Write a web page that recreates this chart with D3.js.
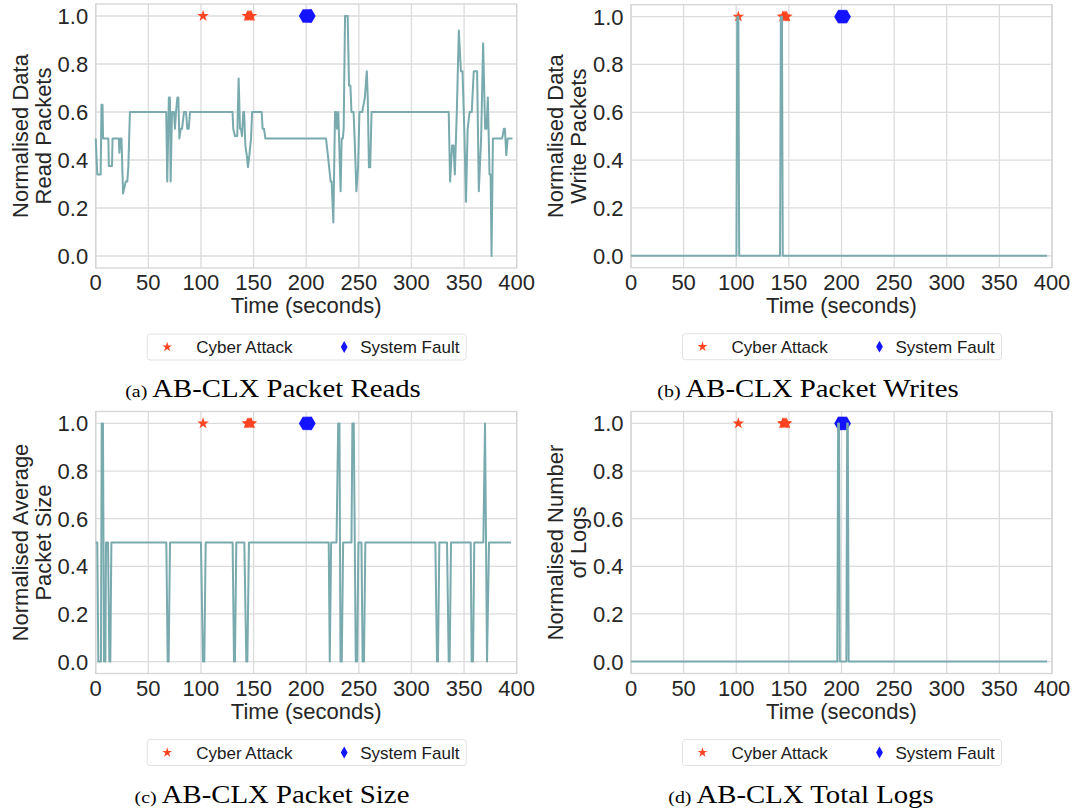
<!DOCTYPE html>
<html>
<head>
<meta charset="utf-8">
<script src="https://cdn.jsdelivr.net/npm/d3@7"></script>
<style>
  body { margin: 0; background: #fff; }
  svg { display: block; }
  .tick-label { font-family: "Liberation Sans", Arial, sans-serif; font-size: 22px; fill: #262626; }
  .axis-title { font-family: "Liberation Sans", Arial, sans-serif; font-size: 22px; fill: #262626; }
  .legend-text { font-family: "Liberation Sans", Arial, sans-serif; font-size: 17px; fill: #1a1a1a; }
  .caption { font-family: "Liberation Serif", "Times New Roman", serif; fill: #000; }
</style>
</head>
<body>
<div class="chart"></div>
<script>
// time (s), normalised value
const packetReads = [[0,0.49],[1.5,0.34],[4.7,0.34],[5.5,0.63],[6.5,0.63],[7,0.49],[12,0.49],[12.5,0.375],[15.5,0.375],[16,0.49],
  [22,0.49],[22.5,0.43],[23.5,0.49],[24.5,0.49],[26,0.26],[28.5,0.31],[30,0.31],[31,0.37],[32.5,0.6],[67,0.6],
  [68,0.31],[69.5,0.66],[70.5,0.66],[71.2,0.31],[72.5,0.6],[74.4,0.6],[75.3,0.53],[76.3,0.6],[77.6,0.66],[78.5,0.66],
  [79.5,0.49],[80.8,0.53],[82,0.53],[83.9,0.6],[85.8,0.6],[87,0.53],[88.4,0.53],[89.6,0.6],[130,0.6],[130.7,0.53],
  [132.3,0.5],[134.5,0.5],[135.8,0.74],[137.1,0.53],[138,0.53],[139,0.5],[140.2,0.6],[141,0.6],[142.2,0.46],[143.5,0.42],
  [144.7,0.37],[146,0.42],[147.6,0.49],[148.6,0.6],[157.7,0.6],[158.6,0.53],[159.9,0.53],[161.2,0.49],[218.8,0.49],[220.6,0.42],
  [223.2,0.31],[224.2,0.31],[225.8,0.14],[227.4,0.6],[228.5,0.6],[229.2,0.53],[230.5,0.6],[232.7,0.27],[233.7,0.49],[234.8,0.49],
  [235.6,0.53],[236.9,1.0],[239.4,1.0],[240.7,0.71],[242,0.71],[243,0.6],[245,0.6],[246,0.49],[247.7,0.27],[249.3,0.37],
  [250.6,0.6],[253.2,0.6],[255.7,0.66],[257.6,0.77],[258.5,0.66],[259.6,0.37],[260.8,0.37],[262.1,0.6],[335.4,0.6],[336.7,0.31],
  [338.6,0.46],[340,0.46],[341.2,0.34],[343.1,0.6],[345,0.94],[347,0.77],[348.5,0.77],[350.2,0.53],[351.8,0.226],[353.4,0.53],
  [355.3,0.6],[357.3,0.6],[359.2,0.77],[362.4,0.77],[364,0.27],[366.2,0.49],[368.1,0.886],[370,0.53],[371.3,0.53],[372.6,0.66],
  [374.2,0.34],[375.2,0.34],[376.1,0.0],[377.4,0.49],[386.2,0.49],[387.8,0.53],[388.8,0.53],[390.1,0.42],[391.4,0.49],[396,0.49]];

const packetWrites = [[0,0],[100.2,0],[101,1],[102,1],[102.8,0],[141.6,0],[142.4,1],[143.4,1],[144.2,0],[395.3,0]];

const packetSize = [[0,0.5],[1.5,0.5],[2.5,0],[5,0],[5.7,1],[6.9,1],[7.9,0],[9.2,0],[9.8,0.5],[11.7,0.5],
  [13,0],[13.9,0],[14.9,0.5],[67.1,0.5],[68.4,0],[69.3,0],[70.6,0.5],[100,0.5],[101.9,0],[103.2,0],
  [104.5,0.5],[130.1,0.5],[131.4,0],[132.3,0],[133.6,0.5],[141.2,0.5],[143.1,0],[144.1,0],[145.6,0.5],[221.4,0.5],
  [222.4,0],[223.7,0.5],[228.8,0.5],[230.4,1],[231.6,1],[232.6,0],[233.8,0],[235.1,0.5],[243,0.5],[243.9,1],
  [245.2,1],[247.1,0],[248.4,0],[249.6,0.5],[252.5,0.5],[253.6,0],[254.9,0],[256.2,0.5],[322.7,0.5],[324.3,0],
  [325.2,0],[326.5,0.5],[333.8,0.5],[335.4,0],[336.3,0],[337.6,0.5],[356.3,0.5],[357.2,0],[358.5,0],[359.7,0.5],
  [368.3,0.5],[369.9,1],[371.8,0],[373.7,0.5],[394.6,0.5]];

const totalLogs = [[0,0],[196,0],[196.8,1],[197.6,1],[198.4,0],[204.6,0],[205.4,1],[206,1],[206.8,0],[395.3,0]];

// event markers (drawn at y = 1)
const attackTimes = [102, 144, 145, 146, 147, 148];
const faultTimes = [197, 198, 199, 200, 201, 202, 203, 204, 205];

const xTicks = [0, 50, 100, 150, 200, 250, 300, 350, 400];
const yTicks = [0, 0.2, 0.4, 0.6, 0.8, 1.0];

const panels = [
  {data: packetReads, left: 95.7, top: 4, h: 264, ylabel: ["Normalised Data", "Read Packets"], tag: "(a)", title: "AB-CLX Packet Reads", capX: 273},
  {data: packetWrites, left: 631, top: 4.7, h: 263, ylabel: ["Normalised Data", "Write Packets"], tag: "(b)", title: "AB-CLX Packet Writes", capX: 808},
  {data: packetSize, left: 95.7, top: 411.5, h: 262, ylabel: ["Normalised Average", "Packet Size"], tag: "(c)", title: "AB-CLX Packet Size", capX: 272},
  {data: totalLogs, left: 631, top: 411.5, h: 262, ylabel: ["Normalised Number", "of Logs"], tag: "(d)", title: "AB-CLX Total Logs", capX: 801}
];

const W = 1082, H = 811, plotW = 421;
const lineColor = "#78aaae", gridColor = "#dcdcdc";
const attackColor = "#ff4422", faultColor = "#1414ff";

const svg = d3.select('.chart')
  .append('svg')
  .attr('width', W)
  .attr('height', H);

const star = d3.symbol().type(d3.symbolStar);
const diamond = d3.symbol().type(d3.symbolDiamond);

panels.forEach(p => {
  const xScale = d3.scaleLinear().domain([0, 400]).range([0, plotW]);
  const yScale = d3.scaleLinear().domain([-0.05, 1.05]).range([p.h, 0]);

  const g = svg.append('g')
    .attr('transform', `translate(${p.left},${p.top})`);

  // grid
  g.selectAll('.xgrid').data(xTicks).enter()
    .append('line')
    .attr('x1', d => xScale(d)).attr('x2', d => xScale(d))
    .attr('y1', 0).attr('y2', p.h)
    .attr('stroke', gridColor).attr('stroke-width', 1.3);
  g.selectAll('.ygrid').data(yTicks).enter()
    .append('line')
    .attr('x1', 0).attr('x2', plotW)
    .attr('y1', d => yScale(d)).attr('y2', d => yScale(d))
    .attr('stroke', gridColor).attr('stroke-width', 1.3);

  g.append('rect')
    .attr('width', plotW).attr('height', p.h)
    .attr('fill', 'none').attr('stroke', '#d4d4d4').attr('stroke-width', 1.3);

  // tick labels
  g.selectAll('.xt').data(xTicks).enter()
    .append('text')
    .attr('class', 'tick-label')
    .attr('x', d => xScale(d))
    .attr('y', p.h + 22)
    .attr('text-anchor', 'middle')
    .text(d => d);
  g.selectAll('.yt').data(yTicks).enter()
    .append('text')
    .attr('class', 'tick-label')
    .attr('x', -7.5)
    .attr('y', d => yScale(d))
    .attr('dy', '0.36em')
    .attr('text-anchor', 'end')
    .text(d => d3.format('.1f')(d));

  g.append('text')
    .attr('class', 'axis-title')
    .attr('x', plotW / 2)
    .attr('y', p.h + 45)
    .attr('text-anchor', 'middle')
    .text('Time (seconds)');

  p.ylabel.forEach((s, i) => {
    g.append('text')
      .attr('class', 'axis-title')
      .attr('transform', `translate(${-76 + i * 23},${p.h / 2}) rotate(-90)`)
      .attr('dy', '0.36em')
      .attr('text-anchor', 'middle')
      .text(s);
  });

  // event markers
  g.selectAll('.attack').data(attackTimes).enter()
    .append('path')
    .attr('d', star.size(42))
    .attr('transform', d => `translate(${xScale(d)},${yScale(1)})`)
    .attr('fill', attackColor);
  g.selectAll('.fault').data(faultTimes).enter()
    .append('path')
    .attr('d', diamond.size(60))
    .attr('transform', d => `translate(${xScale(d)},${yScale(1)})`)
    .attr('fill', faultColor);

  const line = d3.line()
    .x(d => xScale(d[0]))
    .y(d => yScale(d[1]));

  g.append('path')
    .datum(p.data)
    .attr('d', line)
    .attr('fill', 'none')
    .attr('stroke', lineColor)
    .attr('stroke-width', 2)
    .attr('stroke-linejoin', 'round');

  // legend
  const lg = g.append('g')
    .attr('transform', `translate(51.5,${p.h + 66})`);
  lg.append('rect')
    .attr('width', 319).attr('height', 26)
    .attr('rx', 3)
    .attr('fill', '#fff')
    .attr('stroke', '#e2e2e2');
  lg.append('path')
    .attr('d', star.size(30))
    .attr('transform', 'translate(20,13)')
    .attr('fill', attackColor);
  lg.append('text')
    .attr('class', 'legend-text')
    .attr('x', 49).attr('y', 19)
    .text('Cyber Attack');
  lg.append('path')
    .attr('d', diamond.size(40))
    .attr('transform', 'translate(197,13)')
    .attr('fill', faultColor);
  lg.append('text')
    .attr('class', 'legend-text')
    .attr('x', 213).attr('y', 19)
    .text('System Fault');

  // caption
  const cap = svg.append('text')
    .attr('class', 'caption')
    .attr('transform', `translate(${p.capX},${p.top + p.h + 129}) scale(1.17,1)`)
    .attr('text-anchor', 'middle');
  cap.append('tspan').attr('font-size', '17px').text(p.tag + ' ');
  cap.append('tspan').attr('font-size', '24.6px').text(p.title);
});
</script>
</body>
</html>
